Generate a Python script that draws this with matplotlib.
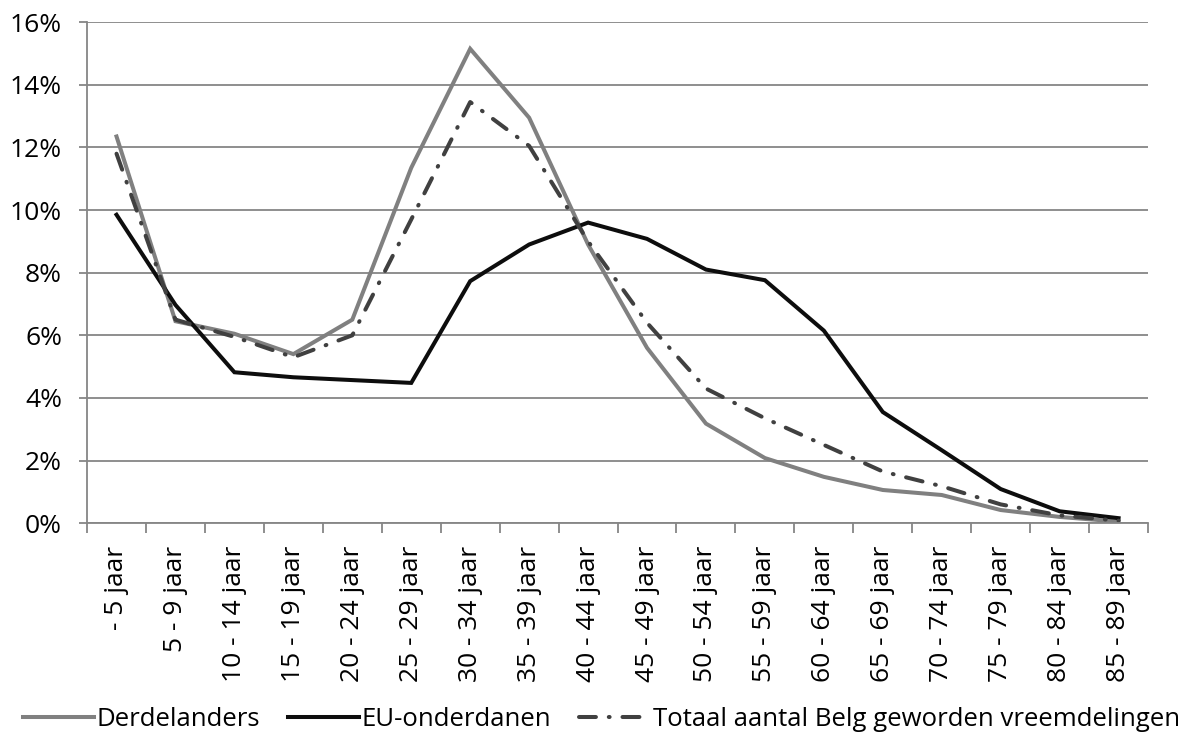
import numpy as np
import matplotlib
matplotlib.use("Agg")
import matplotlib.pyplot as plt
from matplotlib.ticker import FuncFormatter

plt.rcParams['font.family'] = ['Open Sans', 'DejaVu Sans']

categories = ["- 5 jaar", "5 - 9 jaar", "10 - 14 jaar", "15 - 19 jaar", "20 - 24 jaar",
              "25 - 29 jaar", "30 - 34 jaar", "35 - 39 jaar", "40 - 44 jaar", "45 - 49 jaar",
              "50 - 54 jaar", "55 - 59 jaar", "60 - 64 jaar", "65 - 69 jaar", "70 - 74 jaar",
              "75 - 79 jaar", "80 - 84 jaar", "85 - 89 jaar"]

derdelanders = [12.35, 6.45, 6.05, 5.4, 6.5, 11.35, 15.15, 12.95, 8.9, 5.6,
                3.18, 2.08, 1.48, 1.06, 0.9, 0.42, 0.2, 0.05]
eu_onderdanen = [9.85, 6.97, 4.82, 4.66, 4.57, 4.48, 7.73, 8.9, 9.6, 9.08,
                 8.1, 7.76, 6.15, 3.55, 2.33, 1.09, 0.38, 0.16]
totaal = [11.8, 6.5, 5.95, 5.3, 6.0, 9.7, 13.45, 12.05, 9.0, 6.4,
          4.3, 3.35, 2.5, 1.65, 1.18, 0.6, 0.25, 0.08]

fig = plt.figure(figsize=(11.86, 7.4), dpi=100)
ax = fig.add_axes([0.0734, 0.293, 0.8946, 0.677])

x = np.arange(len(categories))
ax.plot(x, derdelanders, color="#808080", lw=2.9, solid_joinstyle="miter", label="Derdelanders")
ax.plot(x, eu_onderdanen, color="#0d0d0d", lw=2.9, solid_joinstyle="miter", label="EU-onderdanen")
ax.plot(x, totaal, color="#404040", lw=2.9, dashes=(4.2, 3.2, 0.2, 3.2), dash_capstyle="round",
        label="Totaal aantal Belg geworden vreemdelingen")

ax.set_xlim(-0.5, len(categories) - 0.5)
ax.set_ylim(0, 16)
ax.set_yticks(np.arange(0, 17, 2))
ax.yaxis.set_major_formatter(FuncFormatter(lambda v, p: f"{v:.0f}%"))
ax.set_xticks(x)
ax.set_xticklabels(categories, rotation=90)
ax.set_xticks(np.arange(-0.5, len(categories)), minor=True)
ax.tick_params(axis="x", which="major", length=0, pad=16, labelsize=19)
ax.tick_params(axis="x", which="minor", length=7, width=1.3, color="#868686", direction="out")
ax.tick_params(axis="y", length=6, width=1.3, color="#868686", labelsize=19, pad=12)

ax.grid(axis="y", color="#868686", lw=1.3)
ax.set_axisbelow(True)
for s in ["top", "right"]:
    ax.spines[s].set_visible(False)
for s in ["left", "bottom"]:
    ax.spines[s].set_color("#868686")
    ax.spines[s].set_linewidth(1.3)

fig.legend(loc="lower center", bbox_to_anchor=(0.507, -0.02), ncol=3, frameon=False,
           fontsize=18.5, handlelength=2.76, handletextpad=0.1, columnspacing=1.1)

fig.savefig("out.png", dpi=100)
